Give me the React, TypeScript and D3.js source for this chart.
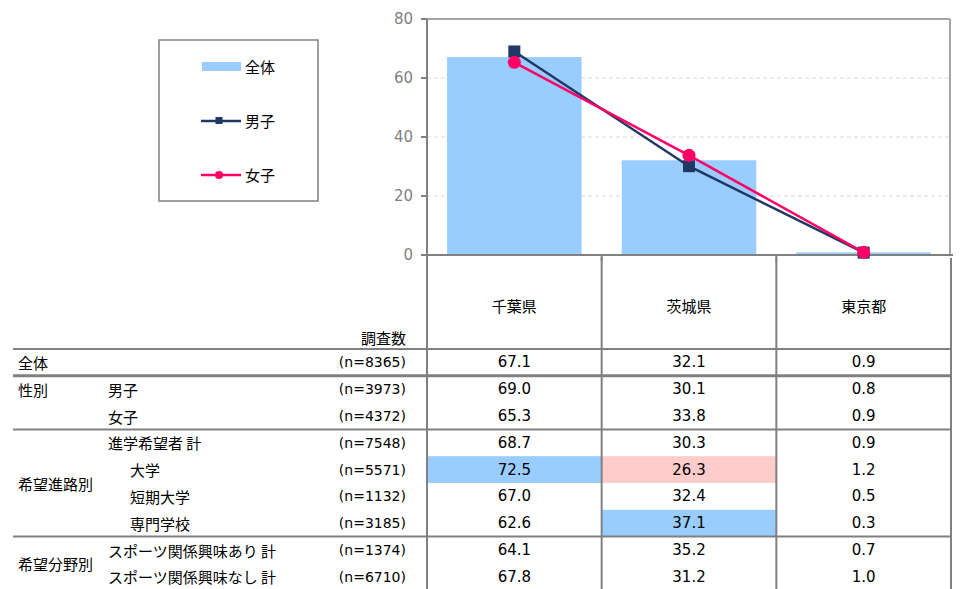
import * as d3 from 'd3'

const categories = ['千葉県', '茨城県', '東京都']
const totalValues = [67.1, 32.1, 0.9]
const maleValues = [69.0, 30.1, 0.8]
const femaleValues = [65.3, 33.8, 0.9]
const yTicks = [0, 20, 40, 60, 80]

const rowLabels = ['', '男子', '女子', '進学希望者 計', '大学', '短期大学', '専門学校', 'スポーツ関係興味あり 計', 'スポーツ関係興味なし 計']
const rowIndent = [0, 1, 1, 1, 2, 2, 2, 1, 1]
const rowN = [8365, 3973, 4372, 7548, 5571, 1132, 3185, 1374, 6710]
const chibaRow = [67.1, 69.0, 65.3, 68.7, 72.5, 67.0, 62.6, 64.1, 67.8]
const ibarakiRow = [32.1, 30.1, 33.8, 30.3, 26.3, 32.4, 37.1, 35.2, 31.2]
const tokyoRow = [0.9, 0.8, 0.9, 0.9, 1.2, 0.5, 0.3, 0.7, 1.0]

const groups = [
  { label: '全体', start: 0, end: 0, at: 0 },
  { label: '性別', start: 1, end: 2, at: 1 },
  { label: '希望進路別', start: 3, end: 6, at: 4.5 },
  { label: '希望分野別', start: 7, end: 8, at: 7.5 },
]

const highlights = [
  { row: 4, col: 0, color: '#99ccff' },
  { row: 4, col: 1, color: '#ffcccc' },
  { row: 6, col: 1, color: '#99ccff' },
]

const JP = '"Noto Sans CJK JP", sans-serif'
const NUM = '"DejaVu Sans", "Noto Sans CJK JP", sans-serif'
const GRID = '#808080'

export default function App() {
  const width = 960
  const height = 589
  const plot = { left: 427, right: 951, top: 19, bottom: 255 }

  const x = d3.scaleBand<string>().domain(categories).range([plot.left, plot.right]).padding(0)
  const y = d3.scaleLinear().domain([0, 80]).range([plot.bottom, plot.top])
  const barW = x.bandwidth() * 0.77
  const cx = (c: string) => (x(c) ?? 0) + x.bandwidth() / 2

  const line = d3
    .line<number>()
    .x((_, i) => cx(categories[i]))
    .y((d) => y(d))

  const tableTop = 349
  const rowH = 26.8
  const rowY = d3.scaleLinear().domain([0, rowLabels.length]).range([tableTop, tableTop + rowH * rowLabels.length])
  const tableCols = [chibaRow, ibarakiRow, tokyoRow]
  const labelX = [18, 108, 130]

  return (
    <svg width={width} height={height} style={{ position: 'absolute', left: 0, top: 0, background: '#fff' }}>
      {/* grid */}
      {yTicks.slice(1, -1).map((t) => (
        <line key={`g${t}`} x1={plot.left} x2={plot.right} y1={y(t)} y2={y(t)} stroke="#d9d9d9" strokeDasharray="4,3" />
      ))}

      {/* bars */}
      {categories.map((c, i) => (
        <rect
          key={c}
          x={cx(c) - barW / 2}
          y={y(totalValues[i])}
          width={barW}
          height={plot.bottom - y(totalValues[i])}
          fill="#99ccff"
        />
      ))}

      {/* frame */}
      <line x1={plot.left} x2={plot.right - 1} y1={plot.top} y2={plot.top} stroke="#a6a6a6" strokeWidth={2} />
      <line x1={plot.right - 1} x2={plot.right - 1} y1={plot.top} y2={plot.bottom} stroke="#a6a6a6" strokeWidth={2} />
      <line x1={plot.left} x2={plot.left} y1={plot.top} y2={plot.bottom + 5} stroke={GRID} strokeWidth={2} />
      <line x1={plot.left - 6} x2={plot.right + 2} y1={plot.bottom} y2={plot.bottom} stroke={GRID} strokeWidth={2} />
      {yTicks.map((t) => (
        <g key={`t${t}`}>
          <line x1={plot.left - 6} x2={plot.left} y1={y(t)} y2={y(t)} stroke={GRID} strokeWidth={2} />
          <text x={plot.left - 14} y={y(t)} textAnchor="end" dominantBaseline="central" fill="#7f7f7f" fontSize={15} fontFamily={NUM}>
            {t}
          </text>
        </g>
      ))}
      {categories.slice(1).map((c) => (
        <line key={`xt${c}`} x1={x(c)} x2={x(c)} y1={plot.bottom} y2={plot.bottom + 6} stroke={GRID} strokeWidth={2} />
      ))}

      {/* lines */}
      <path d={line(maleValues) ?? ''} fill="none" stroke="#1f3864" strokeWidth={2.5} />
      {maleValues.map((v, i) => (
        <rect key={`m${i}`} x={cx(categories[i]) - 6} y={y(v) - 6} width={12} height={12} fill="#1f3864" />
      ))}
      <path d={line(femaleValues) ?? ''} fill="none" stroke="#ff0066" strokeWidth={2.5} />
      {femaleValues.map((v, i) => (
        <circle key={`f${i}`} cx={cx(categories[i])} cy={y(v)} r={6.5} fill="#ff0066" />
      ))}

      {/* legend */}
      <rect x={159} y={40} width={159} height={161} fill="#fff" stroke={GRID} strokeWidth={1.5} />
      <rect x={202} y={62} width={39} height={9} fill="#99ccff" />
      <text x={245} y={66} dominantBaseline="central" fontSize={15} fontFamily={JP} fill="#000">全体</text>
      <line x1={201} x2={241} y1={121} y2={121} stroke="#1f3864" strokeWidth={2.5} />
      <rect x={215.5} y={117} width={7} height={7} fill="#1f3864" />
      <text x={245} y={120} dominantBaseline="central" fontSize={15} fontFamily={JP} fill="#000">男子</text>
      <line x1={201} x2={241} y1={175} y2={175} stroke="#ff0066" strokeWidth={2.5} />
      <circle cx={219} cy={175} r={4} fill="#ff0066" />
      <text x={245} y={174} dominantBaseline="central" fontSize={15} fontFamily={JP} fill="#000">女子</text>

      {/* table */}
      {categories.map((c) => (
        <text key={`h${c}`} x={cx(c)} y={305} textAnchor="middle" dominantBaseline="central" fontSize={15} fontFamily={JP} fill="#000">
          {c}
        </text>
      ))}
      <text x={406} y={337} textAnchor="end" dominantBaseline="central" fontSize={15} fontFamily={JP} fill="#000">調査数</text>

      {highlights.map((h) => (
        <rect
          key={`hl${h.row}-${h.col}`}
          x={x(categories[h.col])}
          y={rowY(h.row)}
          width={x.bandwidth()}
          height={rowH}
          fill={h.color}
        />
      ))}

      {rowLabels.map((label, i) => {
        const yc = rowY(i) + rowH / 2
        return (
          <g key={`r${i}`}>
            {label && (
              <text x={labelX[rowIndent[i]]} y={yc} dominantBaseline="central" fontSize={15} fontFamily={JP} fill="#000">
                {label}
              </text>
            )}
            <text x={406} y={yc} textAnchor="end" dominantBaseline="central" fontSize={14} fontFamily={NUM} fill="#000">
              (n={rowN[i]})
            </text>
            {tableCols.map((col, j) => (
              <text key={j} x={cx(categories[j])} y={yc} textAnchor="middle" dominantBaseline="central" fontSize={15} fontFamily={NUM} fill="#000">
                {col[i].toFixed(1)}
              </text>
            ))}
          </g>
        )
      })}

      {groups.map((g) => (
        <text key={g.label} x={labelX[0]} y={rowY(g.at) + rowH / 2} dominantBaseline="central" fontSize={15} fontFamily={JP} fill="#000">
          {g.label}
        </text>
      ))}

      {/* table rules */}
      <line x1={13} x2={plot.right + 1} y1={rowY(0)} y2={rowY(0)} stroke={GRID} strokeWidth={2} />
      {groups.map((g, i) => (
        <line
          key={`rule${g.label}`}
          x1={13}
          x2={plot.right + 1}
          y1={rowY(g.end + 1)}
          y2={rowY(g.end + 1)}
          stroke={GRID}
          strokeWidth={i === 0 ? 3 : 2}
        />
      ))}
      {[...categories.map((c) => x(c) ?? 0), plot.right].map((xx, i) => (
        <line key={`v${i}`} x1={xx} x2={xx} y1={plot.bottom + 3} y2={height} stroke={GRID} strokeWidth={2} />
      ))}
    </svg>
  )
}
